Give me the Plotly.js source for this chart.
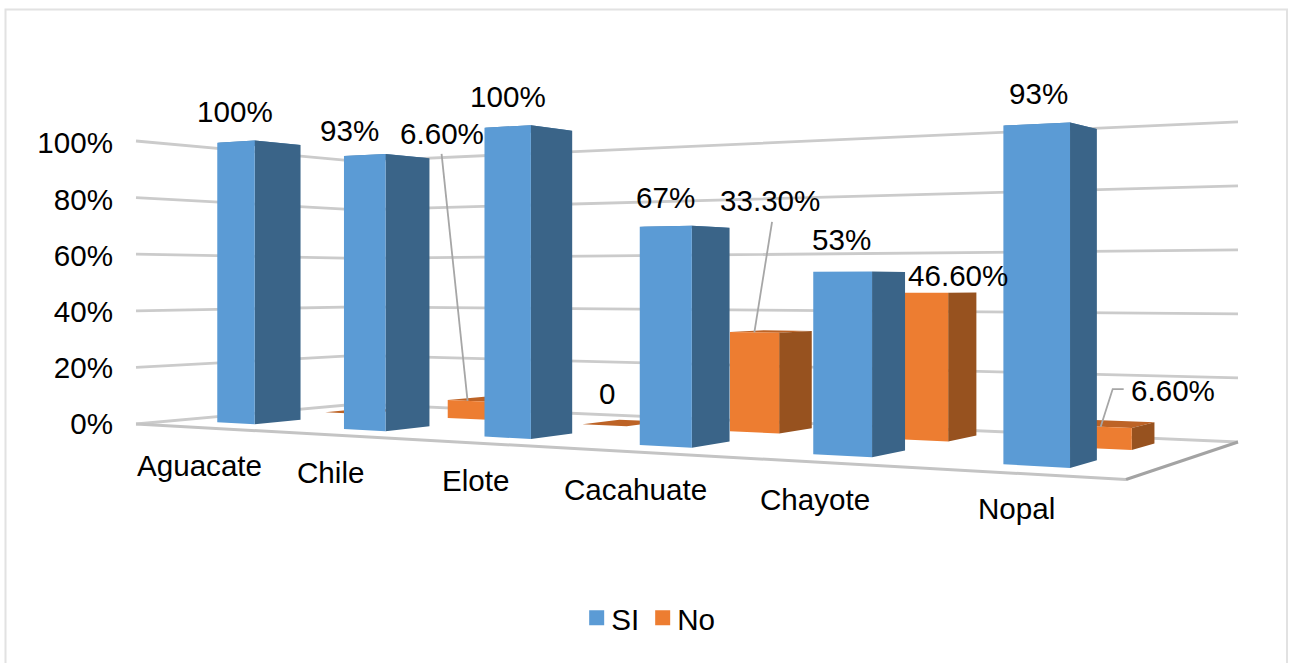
<!DOCTYPE html>
<html>
<head>
<meta charset="utf-8">
<script src="https://cdn.plot.ly/plotly-3.0.1.min.js"></script>
<style>html,body{margin:0;padding:0;background:#fff;overflow:hidden}</style>
</head>
<body>
<div id="chart" style="width:1289px;height:663px"></div>
<script>
// Chart data
const categories = ['Aguacate', 'Chile', 'Elote', 'Cacahuate', 'Chayote', 'Nopal'];
const siValues = [100, 93, 100, 67, 53, 93];
const noValues = [0, 6.6, 0, 33.3, 46.6, 6.6];
const siLabels = ['100%', '93%', '100%', '67%', '53%', '93%'];
const noLabels = ['', '6.60%', '0', '33.30%', '46.60%', '6.60%'];
const percentTicks = [0, 20, 40, 60, 80, 100];

// Label placement, in pixels from the top centre of each column's front face
const siLabelShift = [[-0.5, -30], [-15, -25], [0.6, -30], [-0.4, -29], [-1, -32.5], [2, -30.6]];
const noLabelShift = [null, [-26, -267], [2.4, -32], [16, -132], [38, -17], [72, -36.6]];
const categoryLabelShift = [[4, 38], [7, 38], [10, 38], [10, 38], [9, 37.5], [4, 35]];
// Leader lines, as points relative to the label centre; the last point is the column
const noLeaders = [null, [[0, 20]], null, [[1.7, 21.7]], null, [[-49, -1], [-60, -1]]];
// Small corrections to the even spacing of the categories along the floor
const categoryNudge = [-0.001, 0.002, 0.0045, 0.005, 0.0045, -0.001];

const FONT = '"Liberation Sans", Arial, sans-serif';
const FONT_SIZE = 29.6;
const BLUE = {front: '#5b9bd5', side: '#3a6488', top: '#4a80b0'};
const ORANGE = {front: '#ed7d31', side: '#97521f', top: '#bd6326'};

// Perspective of the 3-D box: floor corners (front-left, front-right, back-right, back-left)
const floor = [[136, 424], [1126, 479.5], [1238, 442], [358, 404]];
const HEIGHT_FULL = 283, HEIGHT_G = -0.282, HEIGHT_H = 0.166;

const [[x0, y0], [x1, y1], [x2, y2], [x3, y3]] = floor;
const sx = x0 - x1 + x2 - x3, sy = y0 - y1 + y2 - y3;
const dx1 = x1 - x2, dx2 = x3 - x2, dy1 = y1 - y2, dy2 = y3 - y2;
const det = dx1 * dy2 - dx2 * dy1;
const G = (sx * dy2 - dx2 * sy) / det, H = (dx1 * sy - sx * dy1) / det;
const A = x1 - x0 + G * x1, B = x3 - x0 + H * x3;
const D = y1 - y0 + G * y1, E = y3 - y0 + H * y3;

// Projects category position u, depth v and percentage z to horizontal pixel and vertical pixel
const Y_ZERO = 424, PX_PER_UNIT = 2.81;
const toAxis = py => (Y_ZERO - py) / PX_PER_UNIT;
function project(u, v, z) {
  const w = 1 + G * u + H * v;
  const px = (A * u + B * v + x0) / w;
  const py = (D * u + E * v + y0) / w - (z / 100) * HEIGHT_FULL / (1 + HEIGHT_G * u + HEIGHT_H * v);
  return [px, py];
}

const HALF_WIDTH = 0.026;
const SI_DEPTH = [0.167, 0.364], NO_DEPTH = [0.647, 0.85];
const centre = i => (i + 0.5) / categories.length + categoryNudge[i];

function pushPoly(trace, pts) {
  pts.forEach(p => { trace.x.push(p[0]); trace.y.push(toAxis(p[1])); });
  const p = pts[0];
  trace.x.push(p[0], null);
  trace.y.push(toAxis(p[1]), null);
}
function faceTrace(color) {
  return {x: [], y: [], mode: 'lines', fill: 'toself', fillcolor: color,
    line: {width: 0, color: color}, hoverinfo: 'skip', showlegend: false, type: 'scatter'};
}
function columnTraces(values, depth, colors) {
  const top = faceTrace(colors.top), side = faceTrace(colors.side), front = faceTrace(colors.front);
  values.forEach((val, i) => {
    const ul = centre(i) - HALF_WIDTH, ur = centre(i) + HALF_WIDTH;
    const [vf, vb] = depth;
    pushPoly(top, [project(ul, vf, val), project(ur, vf, val), project(ur, vb, val), project(ul, vb, val)]);
    if (val > 0) {
      pushPoly(side, [project(ur, vf, 0), project(ur, vb, 0), project(ur, vb, val), project(ur, vf, val)]);
      pushPoly(front, [project(ul, vf, 0), project(ur, vf, 0), project(ur, vf, val), project(ul, vf, val)]);
    }
  });
  return [top, side, front];
}

// Gridlines run along the left wall and then the back wall
const grid = {x: [], y: [], mode: 'lines', type: 'scatter', hoverinfo: 'skip', showlegend: false,
  line: {color: '#cbcbcb', width: 2.8}};
percentTicks.forEach(t => {
  [project(0, 0, t), project(0, 1, t), project(1, 1, t)].forEach(p => {
    grid.x.push(p[0]); grid.y.push(toAxis(p[1]));
  });
  grid.x.push(null); grid.y.push(null);
});
const floorFront = [project(0, 0, 0), project(1, 0, 0)];
const floorRight = [project(1, 0, 0), project(1, 1, 0)];
const edge = (pts, color, width) => ({x: pts.map(p => p[0]), y: pts.map(p => toAxis(p[1])),
  mode: 'lines', type: 'scatter', hoverinfo: 'skip', showlegend: false, line: {color, width}});

const annotations = [];
function addText(px, py, text) {
  annotations.push({x: px, y: toAxis(py), xref: 'x', yref: 'y', text, showarrow: false,
    xanchor: 'center', yanchor: 'middle', font: {family: FONT, size: FONT_SIZE, color: '#000'}});
}
categories.forEach((c, i) => {
  const p = project((i + 0.5) / categories.length, 0, 0);
  addText(p[0] + categoryLabelShift[i][0], p[1] + categoryLabelShift[i][1], c);
});
siValues.forEach((val, i) => {
  const p = project(centre(i), SI_DEPTH[0], val);
  addText(p[0] + siLabelShift[i][0], p[1] + siLabelShift[i][1], siLabels[i]);
});
const leaders = {x: [], y: [], mode: 'lines', type: 'scatter', hoverinfo: 'skip', showlegend: false,
  line: {color: '#a6a6a6', width: 1.8}};
noValues.forEach((val, i) => {
  if (!noLabels[i]) return;
  const p = project(centre(i), NO_DEPTH[0], val);
  const lx = p[0] + noLabelShift[i][0], ly = p[1] + noLabelShift[i][1];
  addText(lx, ly, noLabels[i]);
  if (noLeaders[i]) {
    noLeaders[i].forEach(o => { leaders.x.push(lx + o[0]); leaders.y.push(toAxis(ly + o[1])); });
    leaders.x.push(p[0], null);
    leaders.y.push(toAxis(p[1]), null);
  }
});

const legendKey = (name, color) => ({x: [null], y: [null], name, type: 'scatter', mode: 'markers',
  marker: {symbol: 'square', size: 15, color}, hoverinfo: 'skip'});

const traces = [
  grid,
  edge(floorFront, '#c4c4c4', 3),
  edge(floorRight, '#a3a3a3', 3),
  ...columnTraces(noValues, NO_DEPTH, ORANGE),
  ...columnTraces(siValues, SI_DEPTH, BLUE),
  leaders,
  legendKey('SI', BLUE.front),
  legendKey('No', ORANGE.front)
];

const PLOT_LEFT = 114, WIDTH = 1289, HEIGHT = 663;
const paperX = px => (px - PLOT_LEFT) / (WIDTH - PLOT_LEFT);
const paperY = py => 1 - py / HEIGHT;
const layout = {
  width: WIDTH, height: HEIGHT,
  margin: {l: PLOT_LEFT, r: 0, t: 0, b: 0, pad: 0},
  paper_bgcolor: '#fff', plot_bgcolor: 'rgba(0,0,0,0)',
  font: {family: FONT, size: FONT_SIZE, color: '#000'},
  xaxis: {range: [PLOT_LEFT, WIDTH], visible: false, fixedrange: true},
  yaxis: {
    range: [toAxis(HEIGHT), toAxis(0)], tickmode: 'array', tickvals: percentTicks,
    ticktext: percentTicks.map(t => t + '%'), showgrid: false, zeroline: false, showline: false,
    ticks: '', tickfont: {family: FONT, size: FONT_SIZE, color: '#000'}, fixedrange: true
  },
  showlegend: true,
  legend: {orientation: 'h', x: 0.3993, xanchor: 'left', y: 0.0665, yanchor: 'middle',
    font: {family: FONT, size: FONT_SIZE, color: '#000'}, itemwidth: 30, indentation: -12,
    entrywidth: 33, entrywidthmode: 'pixels',
    bgcolor: 'rgba(0,0,0,0)', itemclick: false, itemdoubleclick: false},
  annotations,
  shapes: [
    {type: 'path', xref: 'paper', yref: 'paper', layer: 'below',
      path: 'M ' + paperX(5.5) + ' ' + paperY(670) + ' L ' + paperX(5.5) + ' ' + paperY(9.5) +
        ' L ' + paperX(1287) + ' ' + paperY(9.5) + ' L ' + paperX(1287) + ' ' + paperY(670),
      line: {color: '#e2e2e2', width: 2}}
  ]
};
Plotly.newPlot('chart', traces, layout, {staticPlot: true, displayModeBar: false}).then(() => {
  // Tighten the gap between each legend swatch and its text
  document.querySelectorAll('.legend .legendsymbols').forEach(g => g.setAttribute('transform', 'translate(5.5,-1)'));
});
</script>
</body>
</html>
